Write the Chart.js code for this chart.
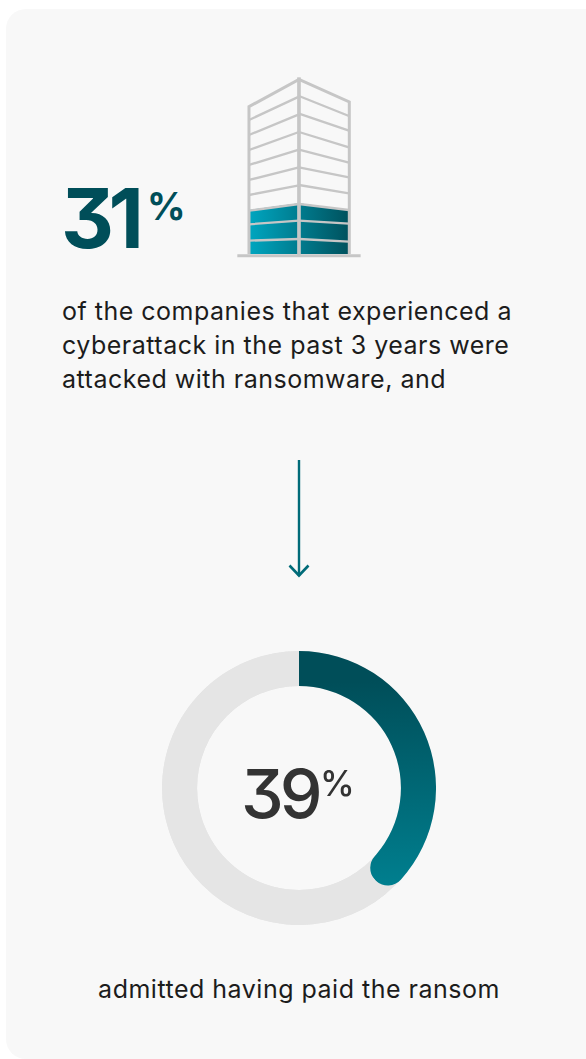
<!DOCTYPE html>
<html>
<head>
<meta charset="utf-8">
<title>Ransomware</title>
<script src="https://cdn.jsdelivr.net/npm/chart.js@4"></script>
<style>
    html, body { margin: 0; padding: 0; background: #fff; }
    body { width: 586px; height: 1059px; position: relative; overflow: hidden; font-family: Inter, sans-serif; }
    .card { position: absolute; left: 6px; top: 9px; width: 600px; height: 1050px; background: #f8f8f8; border-radius: 20px; }
    .big { position: absolute; left: 61px; top: 168px; font-size: 82px; line-height: 102px; font-weight: 650; color: #004e59; letter-spacing: -5.5px; font-feature-settings: "cv09"; }
    .big-pct { position: absolute; left: 147px; top: 183px; font-size: 38px; line-height: 46px; font-weight: 700; color: #004e59; letter-spacing: -1px; }
    .intro { position: absolute; left: 62px; top: 294px; font-size: 25px; line-height: 34px; letter-spacing: 0.5px; color: #1c1c1c; white-space: nowrap; }
    .ring-value { position: absolute; left: 241px; top: 751px; font-size: 68px; line-height: 84px; font-weight: 500; color: #333; letter-spacing: -4px; font-feature-settings: "cv09"; }
    .ring-pct { position: absolute; left: 320px; top: 762px; font-size: 35px; line-height: 42px; font-weight: 500; color: #333; }
    .outro { position: absolute; left: 0; width: 598px; top: 972px; text-align: center; font-size: 25px; line-height: 34px; letter-spacing: 0.5px; color: #1c1c1c; white-space: nowrap; }
    svg { position: absolute; left: 0; top: 0; }
    #ring { position: absolute; left: 162px; top: 651px; }
</style>
</head>
<body>
<div class="card"></div>

<svg width="586" height="1059">
    <defs>
        <linearGradient id="floors" gradientUnits="userSpaceOnUse" x1="600" y1="0" x2="895" y2="0">
            <stop offset="0" stop-color="#00a5bf"/>
            <stop offset="1" stop-color="#00525e"/>
        </linearGradient>
    </defs>
    <!-- building, drawn at 3x and scaled down -->
    <g transform="translate(50 60) scale(0.3333)" fill="none" stroke="#c6c6c6" stroke-width="9">
        <path d="M597 450L747 430V582H597Z M747 430L897 450V582H747Z" fill="url(#floors)" stroke="none"/>
        <path d="M597 582V140L747 58L898 126V582"/>
        <path d="M747 52V585" stroke-width="11"/>
        <path d="M597 180L747 110 M597 225L747 163 M597 270L747 216 M597 315L747 269 M597 360L747 322 M597 405L747 376 M597 452L747 432 M597 493L747 482 M597 542L747 537" stroke-width="7"/>
        <path d="M747 108L897 168 M747 161L897 212 M747 216L897 262 M747 269L897 308 M747 322L897 352 M747 375L897 400 M747 432L897 450 M747 482L897 491 M747 537L897 545" stroke-width="7"/>
        <path d="M562 587H932" stroke-width="9"/>
    </g>
    <!-- arrow -->
    <path d="M299 460V576" fill="none" stroke="#006b78" stroke-width="2.4"/>
    <path d="M289.5 565.5L299 575.5L308.5 565.5" fill="none" stroke="#006b78" stroke-width="2.6"/>
</svg>

<div class="big" id="bigValue"></div>
<div class="big-pct">%</div>
<div class="intro">of the companies that experienced a<br>cyberattack in the past 3 years were<br>attacked with ransomware, and</div>

<canvas id="ring" width="274" height="274"></canvas>
<div class="ring-value" id="ringValue"></div>
<div class="ring-pct">%</div>
<div class="outro">admitted having paid the ransom</div>

<script>
const attackedShare = 31;
const categories = ['Paid the ransom', 'Did not pay'];
const paidValues = [39, 61];

document.getElementById('bigValue').textContent = attackedShare;
document.getElementById('ringValue').textContent = paidValues[0];

// full grey track under the slices, so the rounded end of the arc sits on grey
const trackPlugin = {
    id: 'track',
    beforeDatasetsDraw (chart) {
        const arc = chart.getDatasetMeta(0).data[0];
        const ctx = chart.ctx;
        ctx.save();
        ctx.beginPath();
        ctx.arc(arc.x, arc.y, arc.outerRadius, 0, Math.PI * 2);
        ctx.arc(arc.x, arc.y, arc.innerRadius, Math.PI * 2, 0, true);
        ctx.closePath();
        ctx.fillStyle = '#e5e5e5';
        ctx.fill();
        ctx.restore();
    }
};

function sliceColor (context) {
    if (context.dataIndex !== 0) return '#e5e5e5';
    const gradient = context.chart.ctx.createLinearGradient(210, 30, 215, 240);
    gradient.addColorStop(0, '#004e59');
    gradient.addColorStop(1, '#008090');
    return gradient;
}

function sliceRadius (context) {
    if (context.dataIndex !== 0) return 0;
    return { outerStart: 0, innerStart: 0, outerEnd: 17.5, innerEnd: 17.5 };
}

new Chart(document.getElementById('ring'), {
    type: 'doughnut',
    data: {
        labels: categories,
        datasets: [{
            data: paidValues,
            backgroundColor: sliceColor,
            borderWidth: 0,
            borderRadius: sliceRadius
        }]
    },
    options: {
        responsive: false,
        animation: false,
        cutout: '74.4%',
        layout: { padding: 0 },
        plugins: { legend: { display: false }, tooltip: { enabled: false } }
    },
    plugins: [trackPlugin]
});
</script>
</body>
</html>
